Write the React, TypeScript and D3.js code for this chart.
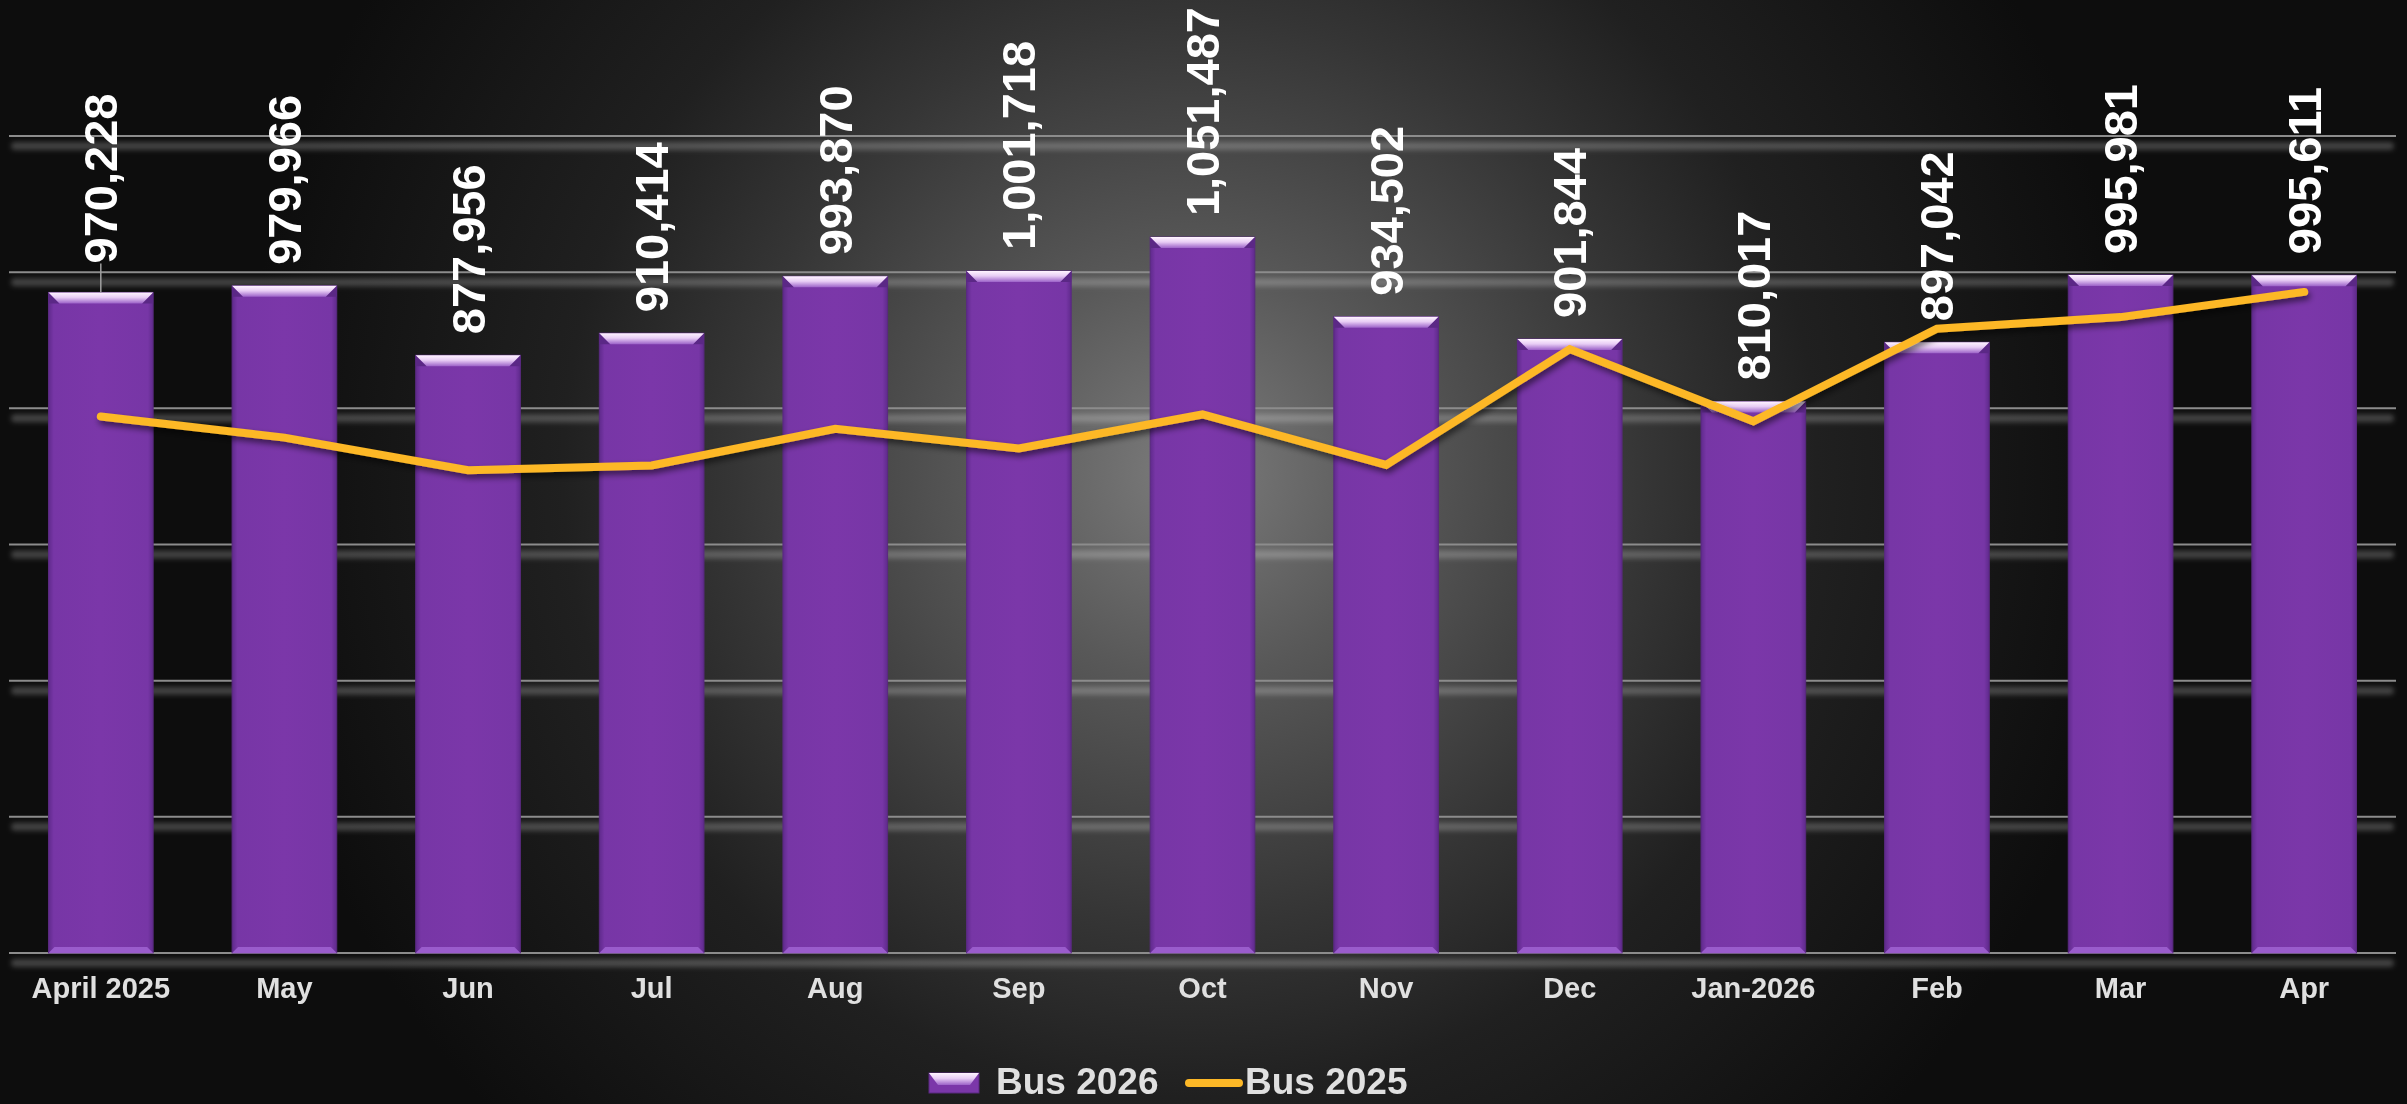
import React from 'react';
import * as d3 from 'd3';

const months = ['April 2025', 'May', 'Jun', 'Jul', 'Aug', 'Sep', 'Oct', 'Nov', 'Dec', 'Jan-2026', 'Feb', 'Mar', 'Apr'];
const bus2026 = [970228, 979966, 877956, 910414, 993870, 1001718, 1051487, 934502, 901844, 810017, 897042, 995981, 995611];
const bus2025 = [788000, 757000, 709000, 716000, 770000, 741000, 791000, 717000, 887000, 781000, 917000, 934000, 971000];
const yTicks = [0, 200000, 400000, 600000, 800000, 1000000, 1200000];
const legendLabels = ['Bus 2026', 'Bus 2025'];

const W = 2407;
const H = 1104;
const FONT = '"Liberation Sans", Arial, sans-serif';
const LINE_COLOR = '#FDB827';

const App = () => {
  const plot = { left: 9, right: 2396, top: 136, bottom: 953 };

  const xScale = d3.scaleBand<string>()
    .domain(months)
    .range([plot.left, plot.right])
    .paddingInner(0.43)
    .paddingOuter(0.215);

  const yScale = d3.scaleLinear().domain([0, 1200000]).range([plot.bottom, plot.top]);

  const cx = (m: string) => (xScale(m) as number) + xScale.bandwidth() / 2;

  const lineGen = d3.line<number>()
    .x((_, i) => cx(months[i]))
    .y(d => yScale(d));

  const bw = xScale.bandwidth();
  const bevel = 11;
  const fmt = d3.format(',');

  return (
    <div style={{ position: 'fixed', left: 0, top: 0, width: W, height: H }}>
      <svg width={W} height={H} style={{ display: 'block' }}>
        <defs>
          <radialGradient id="bg" gradientUnits="userSpaceOnUse" cx={1190} cy={470} r={950}>
            <stop offset="0" stopColor="#7c7c7c" />
            <stop offset="0.22" stopColor="#585858" />
            <stop offset="0.48" stopColor="#353535" />
            <stop offset="0.66" stopColor="#202020" />
            <stop offset="1" stopColor="#0d0d0d" />
          </radialGradient>
          <linearGradient id="barBody" x1="0" x2="1" y1="0" y2="0">
            <stop offset="0" stopColor="#5f2a8c" />
            <stop offset="0.05" stopColor="#7736a6" />
            <stop offset="0.5" stopColor="#7b37a9" />
            <stop offset="0.95" stopColor="#7736a6" />
            <stop offset="1" stopColor="#5f2a8c" />
          </linearGradient>
          <linearGradient id="barTop" x1="0" x2="0" y1="0" y2="1">
            <stop offset="0" stopColor="#fff4ff" />
            <stop offset="0.45" stopColor="#e8cdf5" />
            <stop offset="1" stopColor="#9c62c8" />
          </linearGradient>
          <filter id="blur" filterUnits="userSpaceOnUse" x={0} y={0} width={W} height={H}>
            <feGaussianBlur stdDeviation="2.5" />
          </filter>
          <filter id="lineShadow" filterUnits="userSpaceOnUse" x={0} y={0} width={W} height={H}>
            <feDropShadow dx="2" dy="4" stdDeviation="3" floodColor="#000" floodOpacity="0.55" />
          </filter>
        </defs>

        <rect x={0} y={0} width={W} height={H} fill="url(#bg)" />

        {/* Gridlines */}
        {yTicks.map(t => (
          <g key={t}>
            <line x1={plot.left + 6} x2={plot.right - 6} y1={yScale(t) + 10} y2={yScale(t) + 10}
              stroke="#fff" strokeOpacity={0.22} strokeWidth={8} strokeLinecap="round" filter="url(#blur)" />
            <line x1={plot.left} x2={plot.right} y1={yScale(t)} y2={yScale(t)}
              stroke="#8c8c8c" strokeWidth={2} />
          </g>
        ))}

        {/* Bars */}
        {bus2026.map((v, i) => {
          const x0 = xScale(months[i]) as number;
          const x1 = x0 + bw;
          const y0 = yScale(v);
          const y1 = yScale(0);
          return (
            <g key={months[i]}>
              <rect x={x0} y={y0} width={bw} height={y1 - y0} fill="url(#barBody)" stroke="#5a2a80" strokeWidth={1} />
              <polygon points={`${x0},${y1} ${x1},${y1} ${x1 - 6},${y1 - 6} ${x0 + 6},${y1 - 6}`} fill="#9a5ccc" />
              <polygon points={`${x0},${y0} ${x0 + bevel},${y0 + bevel} ${x0},${y0 + bevel}`} fill="#5b2886" />
              <polygon points={`${x1},${y0} ${x1 - bevel},${y0 + bevel} ${x1},${y0 + bevel}`} fill="#5b2886" />
              <polygon points={`${x0},${y0} ${x1},${y0} ${x1 - bevel},${y0 + bevel} ${x0 + bevel},${y0 + bevel}`} fill="url(#barTop)" />
            </g>
          );
        })}

        {/* Line */}
        <path d={lineGen(bus2025) as string} fill="none" stroke={LINE_COLOR} strokeWidth={8}
          strokeLinecap="round" strokeLinejoin="miter" filter="url(#lineShadow)" />

        {/* Value labels */}
        {bus2026.map((v, i) => {
          const x = cx(months[i]);
          const y = yScale(v) - 21;
          return (
            <g key={`lbl-${i}`}>
              {i === 0 && <line x1={x} x2={x} y1={y - 8} y2={yScale(v)} stroke="#a0a0a0" strokeWidth={1.5} />}
              <text
                transform={`translate(${x},${i === 0 ? y - 8 : y}) rotate(-90)`}
                dominantBaseline="central"
                fill="#ffffff"
                style={{ fontFamily: FONT, fontWeight: 700, fontSize: 47 }}
              >
                {fmt(v)}
              </text>
            </g>
          );
        })}

        {/* X axis labels */}
        {months.map(m => (
          <text key={m} x={cx(m)} y={998} textAnchor="middle" fill="#e0e0e0"
            style={{ fontFamily: FONT, fontWeight: 700, fontSize: 29 }}>
            {m}
          </text>
        ))}

        {/* Legend */}
        <g>
          <rect x={929} y={1073} width={50} height={20} fill="#7b37a9" stroke="#5a2a80" />
          <polygon points="929,1073 979,1073 970,1085 938,1085" fill="url(#barTop)" />
          <text x={996} y={1094} fill="#e0e0e0" style={{ fontFamily: FONT, fontWeight: 700, fontSize: 37 }}>
            {legendLabels[0]}
          </text>
          <line x1={1189} x2={1239} y1={1083} y2={1083} stroke={LINE_COLOR} strokeWidth={8} strokeLinecap="round" />
          <text x={1245} y={1094} fill="#e0e0e0" style={{ fontFamily: FONT, fontWeight: 700, fontSize: 37 }}>
            {legendLabels[1]}
          </text>
        </g>
      </svg>
    </div>
  );
};

export default App;
